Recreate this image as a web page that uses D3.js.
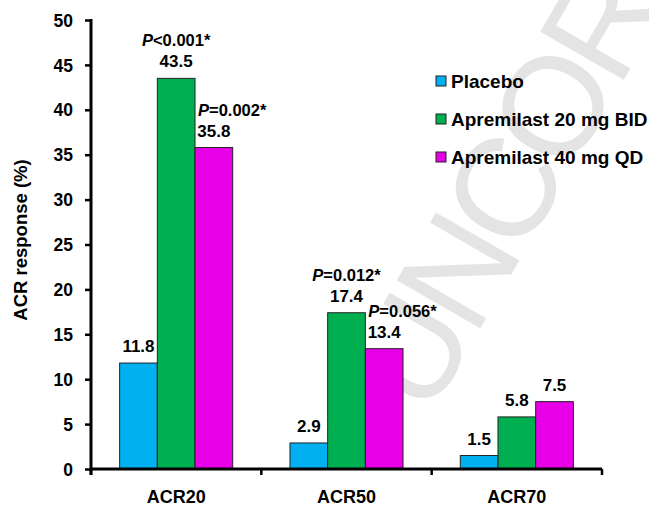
<!DOCTYPE html>
<html>
<head>
<meta charset="utf-8">
<script src="https://cdn.jsdelivr.net/npm/d3@7"></script>
<style>
  body { margin: 0; background: #fff; }
  svg { display: block; font-family: "Liberation Sans", Arial, sans-serif; font-weight: bold; }
</style>
</head>
<body>
<script>
// ACR response bar chart -- three groups, three series each
var categories = ['ACR20', 'ACR50', 'ACR70']
var series = ['Placebo', 'Apremilast 20 mg BID', 'Apremilast 40 mg QD']
var placebo = [11.8, 2.9, 1.5]
var bid20 = [43.5, 17.4, 5.8]
var qd40 = [35.8, 13.4, 7.5]
// p-values vs placebo (null = not shown)
var pBid20 = ['<0.001*', '=0.012*', null]
var pQd40 = ['=0.002*', '=0.056*', null]
var yTicks = [0, 5, 10, 15, 20, 25, 30, 35, 40, 45, 50]
var colors = ['#00b0f0', '#00b050', '#e800e8']

var width = 649
var height = 507
var margin = { top: 20, right: 47, bottom: 38, left: 91 }

var svg = d3.select('body').append('svg')
  .attr('width', width)
  .attr('height', height)

// watermark from the source page (runs off the top edge there too)
svg.append('text')
  .attr('transform', 'translate(428,419) rotate(-60)')
  .attr('font-size', 140)
  .attr('letter-spacing', -8)
  .attr('font-weight', 'normal')
  .attr('fill', '#e4e4e4')
  .text('UNCOR')

var x = d3.scaleBand()
  .domain(categories)
  .range([margin.left, width - margin.right])

var x1 = d3.scaleBand()
  .domain(series)
  .range([0, x.bandwidth()])
  .paddingOuter(0.76)

var y = d3.scaleLinear()
  .domain([0, 50])
  .range([height - margin.bottom, margin.top])

var rows = categories.map(function (c, i) {
  return { cat: c, values: [placebo[i], bid20[i], qd40[i]], p: [null, pBid20[i], pQd40[i]] }
})

var groups = svg.append('g').selectAll('g')
  .data(rows)
  .enter().append('g')
  .attr('transform', function (d) { return 'translate(' + x(d.cat) + ',0)' })

var bars = groups.selectAll('g')
  .data(function (d) {
    return series.map(function (s, j) { return { s: s, v: d.values[j], p: d.p[j], j: j } })
  })
  .enter().append('g')

bars.append('rect')
  .attr('x', function (d) { return x1(d.s) })
  .attr('y', function (d) { return y(d.v) })
  .attr('width', x1.bandwidth())
  .attr('height', function (d) { return y(0) - y(d.v) })
  .attr('fill', function (d) { return colors[d.j] })
  .attr('stroke', '#222')
  .attr('stroke-width', 1)

bars.append('text')
  .attr('x', function (d) { return x1(d.s) + x1.bandwidth() / 2 })
  .attr('y', function (d) { return y(d.v) - 11 })
  .attr('text-anchor', 'middle')
  .attr('font-size', 17)
  .text(function (d) { return d.v.toFixed(1) })

// P labels: centred over the 20 mg bar, left aligned on the 40 mg bar
var pl = bars.filter(function (d) { return d.p !== null })
  .append('text')
  .attr('x', function (d) { return d.j === 1 ? x1(d.s) + x1.bandwidth() / 2 : x1(d.s) + 3 })
  .attr('y', function (d) { return y(d.v) - 32 })
  .attr('text-anchor', function (d) { return d.j === 1 ? 'middle' : 'start' })
  .attr('font-size', 16.5)
pl.append('tspan').attr('font-style', 'italic').text('P')
pl.append('tspan').text(function (d) { return d.p })

// y axis
var yAxis = svg.append('g')
  .attr('transform', 'translate(' + margin.left + ',0)')
  .call(d3.axisLeft(y).tickValues(yTicks).tickSize(6).tickSizeOuter(0).tickPadding(12))
yAxis.select('.domain').remove()
yAxis.selectAll('.tick line').attr('stroke', '#000').attr('stroke-width', 2.5)
yAxis.selectAll('.tick text')
  .attr('fill', '#000')
  .attr('dy', '0.35em')
  .attr('font-size', 17.5)
  .attr('font-family', '"Liberation Sans", Arial, sans-serif')
  .attr('font-weight', 'bold')
yAxis.append('line')
  .attr('x1', 0).attr('x2', 0)
  .attr('y1', y(50) - 1).attr('y2', y(0) + 6)
  .attr('stroke', '#000')
  .attr('stroke-width', 3)

// x axis: baseline with ticks at the band edges
var xAxis = svg.append('g')
xAxis.append('line')
  .attr('x1', x.range()[0]).attr('x2', x.range()[1])
  .attr('y1', y(0)).attr('y2', y(0))
  .attr('stroke', '#000')
  .attr('stroke-width', 3)
var edges = categories.map(function (c) { return x(c) }).concat([x(categories[2]) + x.bandwidth()])
xAxis.selectAll('.xt')
  .data(edges)
  .enter().append('line')
  .attr('x1', function (d) { return d }).attr('x2', function (d) { return d })
  .attr('y1', y(0)).attr('y2', y(0) + 6)
  .attr('stroke', '#000')
  .attr('stroke-width', 2.5)
xAxis.selectAll('.xl')
  .data(categories)
  .enter().append('text')
  .attr('x', function (d) { return x(d) + x.bandwidth() / 2 })
  .attr('y', 503)
  .attr('text-anchor', 'middle')
  .attr('font-size', 18)
  .text(function (d) { return d })

svg.append('text')
  .attr('transform', 'translate(27,240) rotate(-90)')
  .attr('text-anchor', 'middle')
  .attr('font-size', 18.5)
  .text('ACR response (%)')

// legend
var legend = svg.append('g').selectAll('g')
  .data(series)
  .enter().append('g')
  .attr('transform', function (d, i) { return 'translate(436,' + (81 + i * 38) + ')' })
legend.append('rect')
  .attr('x', 0).attr('y', -5)
  .attr('width', 10).attr('height', 10)
  .attr('fill', function (d, i) { return colors[i] })
  .attr('stroke', '#222')
  .attr('stroke-width', 1)
legend.append('text')
  .attr('x', 15)
  .attr('y', 6.5)
  .attr('font-size', 19)
  .text(function (d) { return d })
</script>
</body>
</html>
